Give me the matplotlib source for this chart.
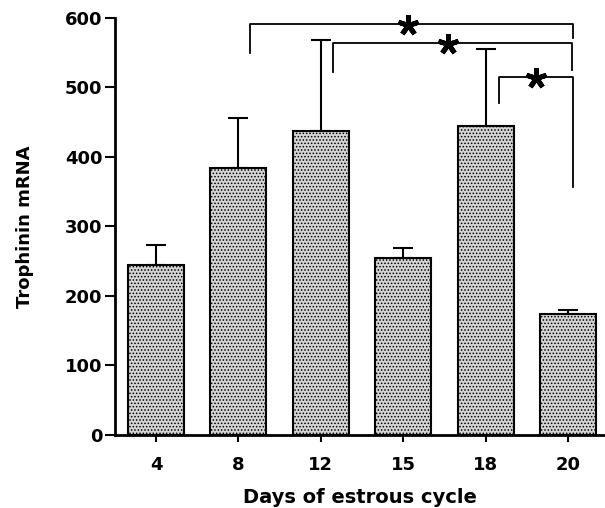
import matplotlib
matplotlib.use("Agg")
import matplotlib.pyplot as plt
import numpy as np

# values
days = ["4", "8", "12", "15", "18", "20"]
mrna = [245, 384, 437, 255, 445, 174]
sem = [28, 72, 131, 14, 110, 6]

# significance brackets: (left x, right x, height, left leg bottom, right leg bottom)
brackets = [
    (1.14, 5.06, 591, 549, 571),
    (2.15, 5.05, 564, 522, 525),
    (4.16, 5.06, 515, 478, 357),
]
star_x = [3.06, 3.54, 4.61]
star_y = [590, 562, 513]

plt.rcParams['font.family'] = ['DejaVu Sans']
plt.rcParams['font.weight'] = 'bold'
plt.rcParams['hatch.linewidth'] = 0.7

fig = plt.figure(figsize=(6.05, 5.08), dpi=100)
ax = fig.add_axes([0.19, 0.1437, 0.81, 0.8209])

x = np.arange(len(days))
ax.bar(x, mrna, width=0.68, facecolor="#d4d4d4", edgecolor="black",
       linewidth=1.5, hatch=".....", zorder=2)
ax.errorbar(x, mrna, yerr=[np.zeros(len(sem)), sem], fmt="none",
            ecolor="black", elinewidth=1.5, capsize=7, capthick=1.5, zorder=1)

for x0, x1, h, b0, b1 in brackets:
    ax.plot([x0, x0, x1, x1], [b0, h, h, b1], color="black", lw=1.3,
            clip_on=False)
# five-armed asterisks over the brackets
ax.plot(star_x, star_y, linestyle="none", marker=(5, 2, 0), markersize=15,
        markeredgewidth=3.5, color="black", clip_on=False, zorder=4)

ax.set_xlim(-0.5, 5.45)
ax.set_ylim(0, 600)
ax.set_xticks(x)
ax.set_xticklabels(days)
ax.set_yticks(np.arange(0, 601, 100))
ax.tick_params(axis="both", labelsize=13, width=1.5, direction="out")
ax.tick_params(axis="y", length=7, pad=2)
ax.tick_params(axis="x", length=5, pad=10)
for lab in ax.get_xticklabels() + ax.get_yticklabels():
    lab.set_fontweight("bold")

for s in ["top", "right"]:
    ax.spines[s].set_visible(False)
for s in ["left", "bottom"]:
    ax.spines[s].set_linewidth(2)

ax.set_xlabel("Days of estrous cycle", fontsize=14, fontweight="bold",
              labelpad=10)
ax.set_ylabel("Trophinin mRNA", fontsize=13, fontweight="bold", labelpad=22)

fig.savefig("out.png", dpi=100)
